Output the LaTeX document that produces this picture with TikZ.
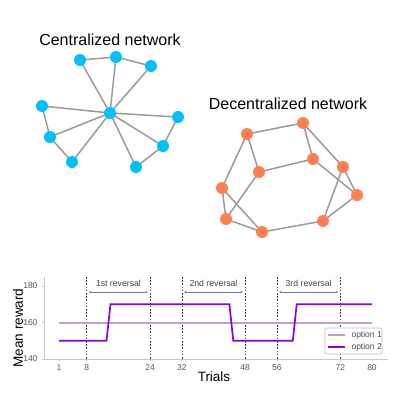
\documentclass[tikz,border=0pt]{standalone}
\usepackage{fontspec}
\setmainfont{Liberation Sans}
\usetikzlibrary{backgrounds,arrows.meta}
\definecolor{cblue}{HTML}{00BFFF}
\definecolor{corange}{HTML}{FF7F50}
\definecolor{edgegray}{HTML}{9A9A9A}
\definecolor{optone}{HTML}{C49BD8}
\definecolor{opttwo}{HTML}{8A00E0}
\definecolor{axgray}{HTML}{C8C8C8}
\definecolor{ticktext}{HTML}{555555}
\definecolor{arrowc}{HTML}{3A4068}
\tikzset{
  bnode/.style={circle,fill=cblue,inner sep=0pt,minimum size=12pt},
  onode/.style={circle,fill=corange,inner sep=0pt,minimum size=12pt},
  gedge/.style={draw=edgegray,line width=1.5pt},
  title/.style={font=\fontsize{16}{18}\selectfont,text=black},
  ticklab/.style={font=\fontsize{8.5}{9}\selectfont,text=ticktext},
  axlab/.style={font=\fontsize{13.5}{15}\selectfont,text=black},
  vdash/.style={draw=black!75,line width=0.6pt,dash pattern=on 1.6pt off 1.6pt},
  revarrow/.style={draw=arrowc!70,line width=0.5pt,{Latex[length=2.5pt,width=2pt,fill=arrowc]}-{Latex[length=2.5pt,width=2pt,fill=arrowc]}},
  revlab/.style={font=\fontsize{8.7}{10}\selectfont,text=black!75},
  opt1line/.style={draw=optone,line width=2pt},
  opt2line/.style={draw=opttwo,line width=1.7pt},
  axline/.style={draw=axgray,line width=0.8pt},
}
\begin{document}
\begin{tikzpicture}[x=1pt,y=-1pt]
\useasboundingbox (0,0) rectangle (400,400);

% ---------- Centralized network ----------
\node[title] (ctitle) at (110,40) {Centralized network};
\node[bnode] (h) at (110,113) {};
\node[bnode] (c1) at (80,60) {};
\node[bnode] (c2) at (116,57) {};
\node[bnode] (c3) at (151,66) {};
\node[bnode] (c4) at (42,106) {};
\node[bnode] (c5) at (50,137) {};
\node[bnode] (c6) at (72,162) {};
\node[bnode] (c7) at (178,117) {};
\node[bnode] (c8) at (163,146) {};
\node[bnode] (c9) at (136,167) {};

% ---------- Decentralized network ----------
\node[title] (dtitle) at (288,104) {Decentralized network};
\node[onode] (dA) at (247,134) {};
\node[onode] (dB) at (303,123) {};
\node[onode] (dC) at (313,159) {};
\node[onode] (dD) at (259,172) {};
\node[onode] (dE) at (343,167) {};
\node[onode] (dF) at (357,195) {};
\node[onode] (dG) at (222,188) {};
\node[onode] (dH) at (226,219) {};
\node[onode] (dI) at (262,232) {};
\node[onode] (dJ) at (323,221) {};

\begin{pgfonlayer}{background}
\foreach \a/\b in {c1/c2,c2/c3,h/c1,h/c2,h/c3,c4/h,c4/c5,c5/h,c5/c6,c6/h,h/c7,c7/c8,h/c8,h/c9,c9/c8}
  \draw[gedge] (\a.center) -- (\b.center);
\foreach \a/\b in {dA/dB,dA/dD,dA/dG,dB/dC,dB/dE,dC/dD,dC/dF,dE/dF,dE/dJ,dF/dJ,dD/dH,dG/dH,dG/dI,dH/dI,dI/dJ}
  \draw[gedge] (\a.center) -- (\b.center);
\end{pgfonlayer}

% ---------- Chart ----------
\coordinate (yaxtop) at (44,277);
\coordinate (origin) at (44,359);
\coordinate (xaxend) at (388,359);
\draw[axline] (yaxtop) -- (origin) -- (xaxend);

% y ticks
\foreach \v/\yy in {180/286,160/322.5,140/359}{
  \draw[axline] (42,\yy) -- (44,\yy);
  \node[ticklab,anchor=east] (yl\v) at (41,\yy) {\v};
}
% x ticks
\foreach \t/\xx in {1/59,8/86.7,24/150.1,32/181.8,48/245.2,56/276.9,72/340.3,80/372}{
  \draw[axline] (\xx,359) -- (\xx,361);
  \node[ticklab,anchor=north] (xl\t) at (\xx,361) {\t};
}
\node[axlab] (xlabel) at (214,377) {Trials};
\node[axlab,rotate=90] (ylabel) at (18,328) {Mean reward};

% dashed lines
\foreach \t/\xx in {8/86.7,24/150.1,32/181.8,48/245.2,56/276.9,72/340.3}{
  \coordinate (dtop\t) at (\xx,277);
  \coordinate (dbot\t) at (\xx,359);
  \draw[vdash] (dtop\t) -- (dbot\t);
}

% reversal arrows
\coordinate (r1a) at (88.5,292); \coordinate (r1b) at (148.3,292);
\coordinate (r2a) at (183.6,292); \coordinate (r2b) at (243.4,292);
\coordinate (r3a) at (278.7,292); \coordinate (r3b) at (338.5,292);
\draw[revarrow] (r1a) -- (r1b);
\draw[revarrow] (r2a) -- (r2b);
\draw[revarrow] (r3a) -- (r3b);
\node[revlab] (l1) at (118.4,283) {1st reversal};
\node[revlab] (l2) at (213.5,283) {2nd reversal};
\node[revlab] (l3) at (308.6,283) {3rd reversal};

% option lines
\draw[opt1line] (59,322.5) -- (372,322.5);
\draw[opt2line,line join=miter] (59,340.75) -- (106.5,340.75) -- (110.5,304.25) -- (229.4,304.25)
  -- (233.3,340.75) -- (292.8,340.75) -- (296.7,304.25) -- (372,304.25);

% legend
\node[draw=black!25,fill=white,rounded corners=2pt,line width=0.6pt,minimum width=57pt,minimum height=26pt,inner sep=0pt] (legend) at (353.5,341) {};
\draw[opt1line] (328,335) -- (345,335);
\draw[opt2line] (328,347) -- (345,347);
\node[ticklab,anchor=west,text=black!70] (leg1) at (348,335) {option 1};
\node[ticklab,anchor=west,text=black!70] (leg2) at (348,347) {option 2};
\end{tikzpicture}
\end{document}
